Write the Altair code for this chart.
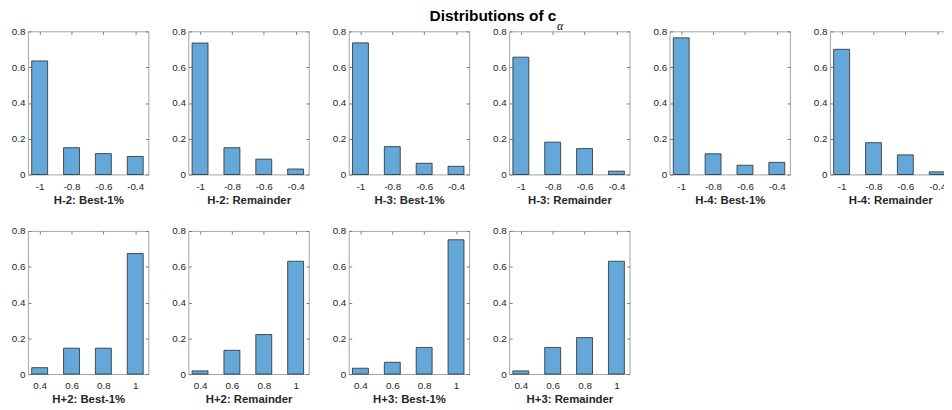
import altair as alt
import pandas as pd

# ---- data -------------------------------------------------------------
bins_neg = [-1.0, -0.8, -0.6, -0.4]
bins_pos = [0.4, 0.6, 0.8, 1.0]
y_ticks = [0, 0.2, 0.4, 0.6, 0.8]

titles_top = ["H-2: Best-1%", "H-2: Remainder", "H-3: Best-1%",
              "H-3: Remainder", "H-4: Best-1%", "H-4: Remainder"]
titles_bottom = ["H+2: Best-1%", "H+2: Remainder", "H+3: Best-1%", "H+3: Remainder"]

h2_best = [0.635, 0.150, 0.117, 0.101]
h2_rem = [0.735, 0.150, 0.086, 0.031]
h3_best = [0.736, 0.156, 0.063, 0.046]
h3_rem = [0.656, 0.181, 0.145, 0.019]
h4_best = [0.764, 0.116, 0.052, 0.068]
h4_rem = [0.700, 0.178, 0.110, 0.015]

hp2_best = [0.036, 0.145, 0.145, 0.674]
hp2_rem = [0.018, 0.133, 0.221, 0.631]
hp3_best = [0.033, 0.066, 0.149, 0.751]
hp3_rem = [0.018, 0.149, 0.204, 0.631]

values_top = [h2_best, h2_rem, h3_best, h3_rem, h4_best, h4_rem]
values_bottom = [hp2_best, hp2_rem, hp3_best, hp3_rem]

dom_neg = [-1.073, -0.317]
dom_pos = [0.327, 1.083]

title_main = "Distributions of c"
title_sub = "\u03b1"

# ---- style ------------------------------------------------------------
FONT = "Liberation Sans"
TXT = "#262626"
FRAME = "#999999"
TICK = "#7a7a7a"
FILL = "#63A8D8"
EDGE = "#2a2a2a"
W, H = 122, 145


def panel(title, bins, vals, domain, sub=None):
    df = pd.DataFrame({"c": bins, "p": vals})
    base = alt.Chart(df).transform_calculate(
        lo="datum.c - 0.05", hi="datum.c + 0.05"
    )
    xs = alt.Scale(domain=domain, nice=False, zero=False)
    ys = alt.Scale(domain=[0, 0.8], nice=False)
    bars = base.mark_bar(fill=FILL, stroke=EDGE, strokeWidth=0.8).encode(
        x=alt.X("lo:Q", scale=xs,
                axis=alt.Axis(values=bins, labelExpr="'' + datum.value",
                              title=title, orient="bottom", offset=-3,
                              tickSize=3, domain=False, grid=False,
                              tickColor=TICK, labelPadding=7, titlePadding=3)),
        x2="hi:Q",
        y=alt.Y("p:Q", scale=ys,
                axis=alt.Axis(values=y_ticks, labelExpr="'' + datum.value",
                              title=None, orient="left", offset=-3,
                              tickSize=3, domain=False, grid=False,
                              tickColor=TICK, labelPadding=3)),
        y2=alt.datum(0),
    )
    ghost = base.mark_bar(opacity=0).encode(
        x=alt.X("lo:Q", scale=xs,
                axis=alt.Axis(values=bins, labels=False, title=None,
                              orient="top", offset=-3, tickSize=3, grid=False,
                              domain=False, tickColor=TICK)),
        x2="hi:Q",
        y=alt.Y("p:Q", scale=ys,
                axis=alt.Axis(values=y_ticks, labels=False, title=None,
                              orient="right", offset=-3, tickSize=3, grid=False,
                              domain=False, tickColor=TICK)),
        y2=alt.datum(0),
    )
    layers = [bars, ghost]
    if sub is not None:
        sub_df = pd.DataFrame({"t": [sub]})
        layers.append(
            alt.Chart(sub_df).mark_text(
                font="Liberation Serif", fontStyle="italic", fontSize=12,
                color="#000000", align="center", baseline="middle",
            ).encode(text="t:N", x=alt.value(51.5), y=alt.value(-5.5))
        )
    return alt.layer(*layers).resolve_axis(
        x="independent", y="independent"
    ).properties(width=W, height=H)


top_panels = []
for i, (t, v) in enumerate(zip(titles_top, values_top)):
    top_panels.append(panel(t, bins_neg, v, dom_neg, sub=title_sub if i == 3 else None))

top = alt.hconcat(*top_panels, spacing=21.5)
bottom = alt.hconcat(
    *[panel(t, bins_pos, v, dom_pos) for t, v in zip(titles_bottom, values_bottom)],
    spacing=21.5,
)

chart = alt.vconcat(top, bottom, spacing=19.2).properties(
    title=alt.TitleParams(
        text=title_main,
        anchor="middle",
        dx=12,
        font=FONT,
        fontSize=15.65,
        fontWeight="bold",
        color="#000000",
        offset=-5.2,
    ),
    padding={"left": 2.3, "top": -2.9, "right": -8, "bottom": -2},
).configure_view(
    stroke=FRAME, strokeWidth=0.9
).configure_axis(
    labelFont=FONT, labelFontSize=10, labelColor=TXT,
    titleFont=FONT, titleFontSize=11.5, titleFontWeight="bold", titleColor=TXT,
)

chart.save("out.html", embed_options={"renderer": "svg", "actions": False})
